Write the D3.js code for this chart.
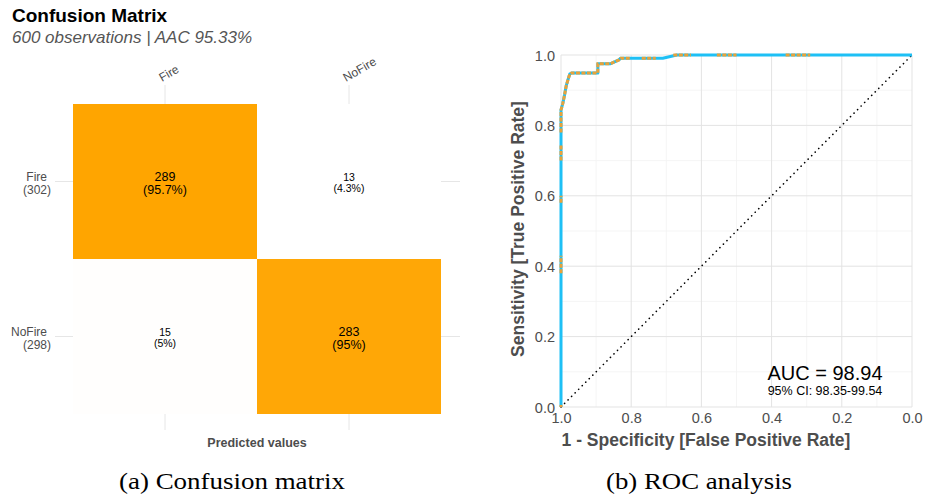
<!DOCTYPE html>
<html>
<head>
<meta charset="utf-8">
<style> body { margin: 0; background: #fff; } svg { display: block; } </style>
<script src="https://d3js.org/d3.v7.min.js"></script>
</head>
<body>
<svg id="chart" width="926" height="498"></svg>
<script>
// confusion matrix data
const classes = ["Fire", "NoFire"];
const rowTotals = [302, 298];
const counts = [[289, 13], [15, 283]];
const pcts = [[95.7, 4.3], [5, 95]];
const pctLabels = [["95.7%", "4.3%"], ["5%", "95%"]];

// ROC curve (x = specificity, reversed axis)
const rocSpec = [1, 1, 0.995, 0.99, 0.985, 0.98, 0.975, 0.97, 0.895, 0.895, 0.86, 0.835, 0.83, 0.71, 0.67, 0];
const rocSens = [0, 0.844, 0.862, 0.886, 0.913, 0.93, 0.946, 0.949, 0.949, 0.975, 0.975, 0.986, 0.991, 0.991, 1.0, 1.0];
// orange threshold runs along the curve
const orangeRuns = [
  [[1, 0], [1, 0.006]],
  [[1, 0.38], [1, 0.43]],
  [[1, 0.58], [1, 0.60]],
  [[1, 0.70], [1, 0.745]],
  [[1, 0.78], [1, 0.844], [0.995, 0.862], [0.99, 0.886], [0.985, 0.913], [0.98, 0.93], [0.975, 0.946], [0.97, 0.949], [0.895, 0.949], [0.895, 0.975], [0.86, 0.975], [0.835, 0.986], [0.83, 0.991], [0.80, 0.991]],
  [[0.77, 0.991], [0.73, 0.991]],
  [[0.68, 1], [0.63, 1]],
  [[0.556, 1], [0.50, 1]],
  [[0.36, 1], [0.29, 1]]
];
const rocTicks = [0, 0.2, 0.4, 0.6, 0.8, 1.0];
const aucText = "AUC = 98.94";
const ciText = "95% CI: 98.35-99.54";

const svg = d3.select("#chart");
const font = "'Liberation Sans', Arial, sans-serif";
const grey = "#4d4d4d";

// ---------- left: confusion matrix ----------
svg.append("text").attr("x", 12).attr("y", 22)
  .attr("font-family", font).attr("font-size", 19).attr("font-weight", "bold")
  .attr("fill", "#000").text("Confusion Matrix");
svg.append("text").attr("x", 12).attr("y", 43)
  .attr("font-family", font).attr("font-size", 17).attr("font-style", "italic")
  .attr("fill", "#555").text("600 observations | AAC 95.33%");

const cx = d3.scaleBand().domain(classes).range([73, 441]);
const cy = d3.scaleBand().domain(classes).range([104, 414]);
const allN = counts.flat();
const fill = d3.scaleLinear().domain([d3.min(allN), d3.max(allN)]).range(["#ffffff", "#ffa500"]);

const cm = svg.append("g");
// grid ticks outside the tiles
classes.forEach(c => {
  const x = cx(c) + cx.bandwidth() / 2;
  cm.append("line").attr("x1", x).attr("x2", x).attr("y1", 85).attr("y2", 104).attr("stroke", "#e6e6e6");
  cm.append("line").attr("x1", x).attr("x2", x).attr("y1", 414).attr("y2", 430).attr("stroke", "#e6e6e6");
  const y = cy(c) + cy.bandwidth() / 2;
  cm.append("line").attr("x1", 55).attr("x2", 73).attr("y1", y).attr("y2", y).attr("stroke", "#e6e6e6");
  cm.append("line").attr("x1", 441).attr("x2", 460).attr("y1", y).attr("y2", y).attr("stroke", "#e6e6e6");
});

const cells = [];
classes.forEach((r, i) => classes.forEach((c, j) => cells.push({ r, c, n: counts[i][j], p: pcts[i][j], pl: pctLabels[i][j] })));

cm.selectAll("rect.cell").data(cells).join("rect")
  .attr("x", d => cx(d.c)).attr("y", d => cy(d.r))
  .attr("width", cx.bandwidth()).attr("height", cy.bandwidth())
  .attr("fill", d => fill(d.n));

cells.forEach(d => {
  const x = cx(d.c) + cx.bandwidth() / 2;
  const y = cy(d.r) + cy.bandwidth() / 2;
  const big = d.p > 50;
  const fs = big ? 12.5 : 10.5;
  cm.append("text").attr("x", x).attr("y", y - 1).attr("text-anchor", "middle")
    .attr("font-family", font).attr("font-size", fs).attr("fill", "#000").text(d.n);
  cm.append("text").attr("x", x).attr("y", y + (big ? 12 : 10.5)).attr("text-anchor", "middle")
    .attr("font-family", font).attr("font-size", fs).attr("fill", "#000").text("(" + d.pl + ")");
});

// row labels
classes.forEach((c, i) => {
  const y = cy(c) + cy.bandwidth() / 2;
  cm.append("text").attr("x", 47).attr("y", y - 1).attr("text-anchor", "end")
    .attr("font-family", font).attr("font-size", 12).attr("fill", grey).text(c);
  cm.append("text").attr("x", 51).attr("y", y + 12).attr("text-anchor", "end")
    .attr("font-family", font).attr("font-size", 12).attr("fill", grey).text("(" + rowTotals[i] + ")");
});
// column labels (rotated)
classes.forEach(c => {
  const x = cx(c) + cx.bandwidth() / 2 - 3;
  cm.append("text").attr("transform", `translate(${x},82) rotate(-30)`)
    .attr("font-family", font).attr("font-size", 12).attr("fill", grey).text(c);
});
cm.append("text").attr("x", 257).attr("y", 447).attr("text-anchor", "middle")
  .attr("font-family", font).attr("font-size", 12.5).attr("font-weight", "bold")
  .attr("fill", grey).text("Predicted values");

// ---------- right: ROC ----------
const x = d3.scaleLinear().domain([1, 0]).range([561, 912]);
const y = d3.scaleLinear().domain([0, 1]).range([407, 55]);
const roc = svg.append("g");

const minor = d3.range(1, 10, 2).map(v => v / 10);
roc.selectAll("line.vmin").data(minor).join("line")
  .attr("x1", d => x(d)).attr("x2", d => x(d)).attr("y1", y(0)).attr("y2", y(1))
  .attr("stroke", "#f2f2f2").attr("stroke-width", 0.8);
roc.selectAll("line.hmin").data(minor).join("line")
  .attr("y1", d => y(d)).attr("y2", d => y(d)).attr("x1", x(1)).attr("x2", x(0))
  .attr("stroke", "#f2f2f2").attr("stroke-width", 0.8);
roc.selectAll("line.vmaj").data(rocTicks).join("line")
  .attr("x1", d => x(d)).attr("x2", d => x(d)).attr("y1", y(0)).attr("y2", y(1))
  .attr("stroke", "#e3e3e3").attr("stroke-width", 1);
roc.selectAll("line.hmaj").data(rocTicks).join("line")
  .attr("y1", d => y(d)).attr("y2", d => y(d)).attr("x1", x(1)).attr("x2", x(0))
  .attr("stroke", "#e3e3e3").attr("stroke-width", 1);

const xAxis = roc.append("g").attr("transform", "translate(0,407)")
  .call(d3.axisBottom(x).tickValues(rocTicks).tickFormat(d3.format(".1f")).tickSize(0).tickPadding(6));
const yAxis = roc.append("g").attr("transform", "translate(561,0)")
  .call(d3.axisLeft(y).tickValues(rocTicks).tickFormat(d3.format(".1f")).tickSize(0).tickPadding(6));
[xAxis, yAxis].forEach(a => {
  a.select(".domain").remove();
  a.selectAll("text").attr("font-family", font).attr("font-size", 14.5).attr("fill", grey);
});
yAxis.selectAll("text").attr("dy", "0.35em");

// chance line
roc.append("line").attr("x1", x(1)).attr("y1", y(0)).attr("x2", x(0)).attr("y2", y(1))
  .attr("stroke", "#000").attr("stroke-width", 1.6).attr("stroke-dasharray", "0.1,4.9")
  .attr("stroke-linecap", "round");

const line = d3.line().x(d => x(d[0])).y(d => y(d[1]));
const rocPts = rocSpec.map((s, i) => [s, rocSens[i]]);
roc.append("path").attr("d", line(rocPts)).attr("fill", "none")
  .attr("stroke", "#1ec0f5").attr("stroke-width", 3).attr("stroke-linejoin", "round");
roc.selectAll("path.or").data(orangeRuns).join("path")
  .attr("d", line).attr("fill", "none")
  .attr("stroke", "#e8a23a").attr("stroke-width", 3).attr("stroke-dasharray", "4,1.5");

roc.append("text").attr("x", 825).attr("y", 380).attr("text-anchor", "middle")
  .attr("font-family", font).attr("font-size", 20).attr("fill", "#000").text(aucText);
roc.append("text").attr("x", 825).attr("y", 395).attr("text-anchor", "middle")
  .attr("font-family", font).attr("font-size", 12.5).attr("fill", "#000").text(ciText);

roc.append("text").attr("x", 706).attr("y", 446).attr("text-anchor", "middle")
  .attr("font-family", font).attr("font-size", 17.5).attr("font-weight", "bold")
  .attr("fill", grey).text("1 - Specificity [False Positive Rate]");
roc.append("text").attr("transform", "translate(524,229) rotate(-90)").attr("text-anchor", "middle")
  .attr("font-family", font).attr("font-size", 17.5).attr("font-weight", "bold")
  .attr("fill", grey).text("Sensitivity [True Positive Rate]");

// captions
const serif = "'Liberation Serif', 'DejaVu Serif', serif";
svg.append("text").attr("x", 232).attr("y", 489).attr("text-anchor", "middle")
  .attr("font-family", serif).attr("font-size", 24).attr("fill", "#000")
  .attr("textLength", 226).attr("lengthAdjust", "spacingAndGlyphs").text("(a) Confusion matrix");
svg.append("text").attr("x", 699).attr("y", 489).attr("text-anchor", "middle")
  .attr("font-family", serif).attr("font-size", 24).attr("fill", "#000")
  .attr("textLength", 186).attr("lengthAdjust", "spacingAndGlyphs").text("(b) ROC analysis");
</script>
</body>
</html>
